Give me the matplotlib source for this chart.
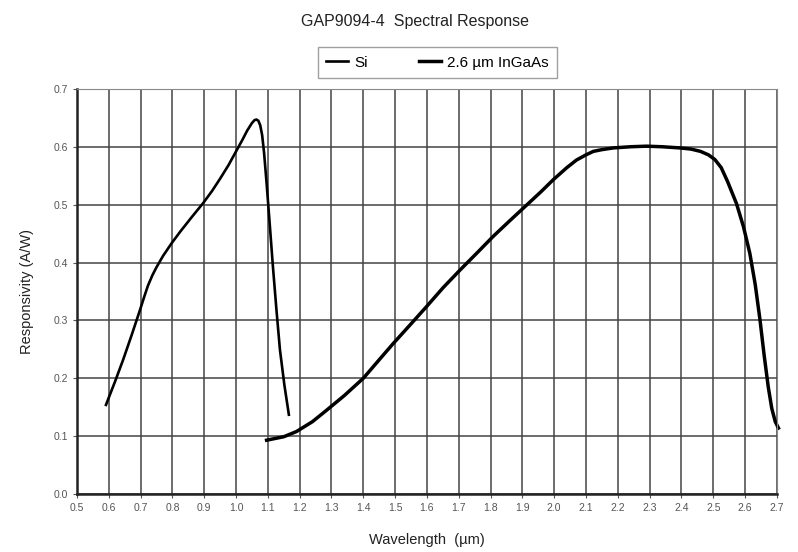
import numpy as np
import matplotlib
matplotlib.use('Agg')
import matplotlib.pyplot as plt

plt.rcParams['font.family'] = ['Liberation Sans', 'DejaVu Sans']

# Si curve
si_x = [0.591, 0.620, 0.645, 0.672, 0.698, 0.712, 0.723, 0.737, 0.75, 0.77, 0.797,
        0.824, 0.860, 0.897, 0.925, 0.95, 0.976, 1.002, 1.020, 1.035, 1.050, 1.058,
        1.064, 1.070, 1.076, 1.082, 1.088, 1.096, 1.106, 1.116, 1.127, 1.138, 1.152,
        1.166]
si_y = [0.154, 0.195, 0.232, 0.275, 0.318, 0.342, 0.360, 0.378, 0.392, 0.411, 0.433,
        0.453, 0.478, 0.503, 0.524, 0.545, 0.568, 0.594, 0.612, 0.628, 0.641, 0.646,
        0.647, 0.645, 0.637, 0.620, 0.590, 0.537, 0.465, 0.392, 0.318, 0.249, 0.188,
        0.137]

# 2.6 um InGaAs curve
ing_x = [1.096, 1.150, 1.190, 1.240, 1.285, 1.340, 1.40, 1.450, 1.494, 1.550, 1.599,
         1.650, 1.704, 1.760, 1.808, 1.860, 1.913, 1.960, 1.997, 2.040, 2.070, 2.100,
         2.123, 2.150, 2.186, 2.240, 2.290, 2.340, 2.395, 2.430, 2.460, 2.485, 2.505,
         2.525, 2.545, 2.573, 2.595, 2.615, 2.632, 2.647, 2.660, 2.673, 2.684, 2.695,
         2.705]
ing_y = [0.093, 0.099, 0.108, 0.125, 0.145, 0.170, 0.200, 0.232, 0.260, 0.294, 0.324,
         0.356, 0.387, 0.418, 0.445, 0.472, 0.499, 0.523, 0.543, 0.564, 0.577, 0.586,
         0.592, 0.595, 0.598, 0.600, 0.601, 0.600, 0.598, 0.596, 0.592, 0.586, 0.578,
         0.564, 0.540, 0.502, 0.462, 0.416, 0.362, 0.301, 0.240, 0.185, 0.148, 0.125,
         0.114]

xticks = np.round(np.arange(0.5, 2.71, 0.1), 1)
yticks = np.round(np.arange(0.0, 0.71, 0.1), 1)

fig = plt.figure(figsize=(7.98, 5.52), dpi=100)
ax = fig.add_axes([0.0965, 0.105, 0.877, 0.734])

ax.plot(si_x, si_y, color='black', lw=1.9, label='Si', clip_on=False)
ax.plot(ing_x, ing_y, color='black', lw=2.5, label='2.6 µm InGaAs', clip_on=False)

ax.set_xlim(0.5, 2.7)
ax.set_ylim(0.0, 0.7)
ax.set_xticks(xticks)
ax.set_xticklabels([f'{v:.1f}' for v in xticks])
ax.set_yticks(yticks)
ax.set_yticklabels([f'{v:.1f}' for v in yticks])
ax.tick_params(labelsize=7.5, colors='#555555', length=3)
ax.grid(True, color='#444444', lw=1.1)
ax.set_axisbelow(True)

for s in ['left', 'bottom']:
    ax.spines[s].set_linewidth(1.8)
    ax.spines[s].set_color('#222222')
for s in ['top', 'right']:
    ax.spines[s].set_color('#888888')

ax.set_xlabel('Wavelength  (µm)', fontsize=10.5, color='#222222', labelpad=14)
ax.set_ylabel('Responsivity (A/W)', fontsize=10.5, color='#222222', labelpad=14)
fig.suptitle('GAP9094-4  Spectral Response', x=0.52, y=0.975, fontsize=11.5, color='#222222')

leg = ax.legend(loc='lower center', bbox_to_anchor=(0.515, 1.027), ncol=2, frameon=True,
                fancybox=False, edgecolor='#888888', fontsize=11, handlelength=1.4,
                handletextpad=0.4, columnspacing=3.4, borderpad=0.55,
                borderaxespad=0.0)
leg.get_frame().set_linewidth(1.0)

fig.savefig('out.png', dpi=100, facecolor='white')
